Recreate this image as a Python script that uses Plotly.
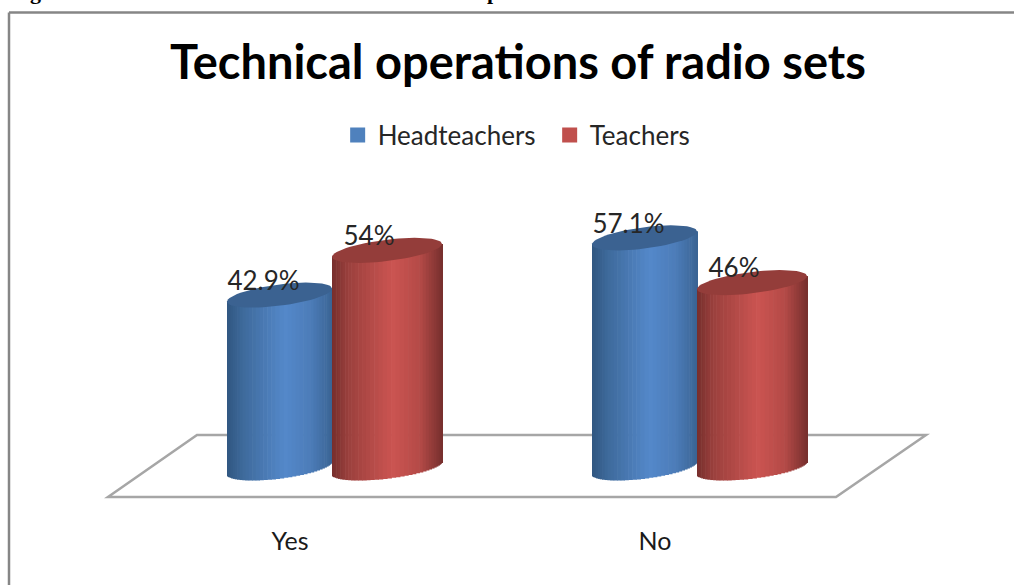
import math
import plotly.graph_objects as go

# ---- data ----
categories = ["Yes", "No"]
headteachers = [42.9, 57.1]
teachers = [54, 46]
headteacher_labels = ["42.9%", "57.1%"]
teacher_labels = ["54%", "46%"]
title_text = "Technical operations of radio sets"

W, H = 1014, 585
PLOT_BOTTOM = 515
X0_PX, UNIT_X = 332.0, 365.0      # px of category 0, px per category
Y0_PX, UNIT_Y = 468.0, 4.03       # px of value 0, px per percent
BAR_W = {"h": 105.0, "t": 110.0}
TILT = 6.5
MINOR = 10.7
N = 40

BLUE_STOPS = [(0.0, (48, 86, 128)), (0.15, (62, 106, 155)), (0.55, (84, 136, 202)),
              (0.8, (76, 124, 184)), (1.0, (58, 100, 148))]
RED_STOPS = [(0.0, (118, 46, 44)), (0.15, (155, 64, 61)), (0.55, (203, 84, 81)),
             (0.8, (180, 74, 71)), (1.0, (120, 48, 46))]


def shade(stops, u):
    for (a, ca), (b, cb) in zip(stops, stops[1:]):
        if u <= b:
            f = (u - a) / (b - a)
            c = [round(p + (q - p) * f) for p, q in zip(ca, cb)]
            return f"rgb({c[0]},{c[1]},{c[2]})"
    return "rgb(%d,%d,%d)" % stops[-1][1]


def add_cylinders(fig, values, stops, offset_px, width_px, top_color):
    for i in range(N):
        # strips evenly spaced round the cylinder, so narrow towards its edges
        t0 = -math.cos(math.pi * i / N)
        t1 = -math.cos(math.pi * (i + 1) / N)
        t = (t0 + t1) / 2
        u = (t + 1) / 2
        left = (t0 + 1) / 2 * width_px
        strip = (t1 - t0) / 2 * width_px
        tilt = TILT * t / UNIT_Y
        front = MINOR * math.sqrt(max(0, 1 - t * t)) / UNIT_Y
        base = [tilt - front for _ in values]
        heights = [v + front for v in values]
        fig.add_trace(go.Bar(
            x=list(range(len(values))), y=heights, base=base,
            width=(strip + 0.6) / UNIT_X,
            offset=(offset_px + left) / UNIT_X,
            marker=dict(color=shade(stops, u), line=dict(width=0)),
            showlegend=False, hoverinfo="skip"))
    # the elliptical lids
    for k, v in enumerate(values):
        xs, ys = [], []
        for d in range(0, 361, 6):
            a = math.radians(d)
            t, s = math.cos(a), math.sin(a)
            xs.append(k + (offset_px + (t + 1) / 2 * width_px) / UNIT_X)
            ys.append(v + (TILT * t + MINOR * s) / UNIT_Y)
        fig.add_trace(go.Scatter(
            x=xs, y=ys, mode="lines", fill="toself", fillcolor=top_color,
            line=dict(width=0, color=top_color), showlegend=False, hoverinfo="skip"))


fig = go.Figure()
add_cylinders(fig, headteachers, BLUE_STOPS, -BAR_W["h"], BAR_W["h"], "rgb(59,98,145)")
add_cylinders(fig, teachers, RED_STOPS, 0, BAR_W["t"], "rgb(148,61,58)")

# data labels
LABEL_FONT = dict(family="Lato, 'Noto Sans', sans-serif", size=26, color="#262626")
fig.add_trace(go.Scatter(
    x=[i + (-BAR_W["h"] / 2 - 16) / UNIT_X for i in range(2)],
    y=[v + 11.5 / UNIT_Y for v in headteachers],
    mode="text", text=headteacher_labels, textposition="middle center",
    textfont=LABEL_FONT, showlegend=False, hoverinfo="skip"))
fig.add_trace(go.Scatter(
    x=[i + (BAR_W["t"] / 2 - 18) / UNIT_X for i in range(2)],
    y=[v + 12 / UNIT_Y for v in teachers],
    mode="text", text=teacher_labels, textposition="middle center",
    textfont=LABEL_FONT, showlegend=False, hoverinfo="skip"))

# legend entries
for name, col in (("Headteachers", "#4f81bd"), ("Teachers", "#c0504d")):
    fig.add_trace(go.Scatter(
        x=[None], y=[None], mode="markers", name=name,
        marker=dict(symbol="square", size=15, color=col)))


def floor_path():
    pts = [(108, 497), (836, 497), (926, 435), (197, 435)]
    out = []
    for i, (a, b) in enumerate(pts):
        out.append(("M" if i == 0 else "L") + f" {(a - X0_PX) / UNIT_X:.4f} {(Y0_PX - b) / UNIT_Y:.4f}")
    return " ".join(out) + " Z"


shapes = [
    dict(type="path", path=floor_path(), xref="x", yref="y", layer="below",
         line=dict(color="#a6a6a6", width=2.5), fillcolor="white"),
]

fig.update_layout(
    width=W, height=H,
    margin=dict(l=0, r=0, t=0, b=H - PLOT_BOTTOM, autoexpand=False),
    paper_bgcolor="white", plot_bgcolor="white",
    barmode="overlay",
    shapes=shapes,
    xaxis=dict(range=[-X0_PX / UNIT_X, (W - X0_PX) / UNIT_X],
               tickmode="array",
               tickvals=[-42 / UNIT_X, 1 - 42 / UNIT_X],
               ticktext=categories,
               ticks="outside", ticklen=4, tickcolor="rgba(0,0,0,0)",
               tickfont=dict(family="Lato, 'Noto Sans', sans-serif", size=25, color="#1a1a1a"),
               showgrid=False, zeroline=False, showline=False),
    yaxis=dict(range=[(Y0_PX - PLOT_BOTTOM) / UNIT_Y, Y0_PX / UNIT_Y],
               visible=False, showgrid=False, zeroline=False),
    legend=dict(orientation="h", x=0.333, y=1 - 135 / PLOT_BOTTOM, xanchor="left", yanchor="middle",
                xref="paper", yref="paper", entrywidth=167, entrywidthmode="pixels",
                font=dict(family="Lato, 'Noto Sans', sans-serif", size=26, color="#262626"),
                itemsizing="trace", bgcolor="rgba(0,0,0,0)", traceorder="normal"),
    title=dict(text=f"<b>{title_text}</b>", x=518 / W, xanchor="center", y=1 - 63 / H, yanchor="middle",
               font=dict(family="Lato, 'Noto Sans', sans-serif", size=47, color="black")),
    annotations=[
        dict(text="<b>g</b>", x=35 / W, y=1 + 8 / PLOT_BOTTOM, xref="paper", yref="paper",
             showarrow=False, xanchor="center", yanchor="middle",
             font=dict(family="Liberation Serif", size=22, color="black")),
        dict(text="<b>p</b>", x=493 / W, y=1 + 8 / PLOT_BOTTOM, xref="paper", yref="paper",
             showarrow=False, xanchor="center", yanchor="middle",
             font=dict(family="Liberation Serif", size=22, color="black")),
    ],
)
# frame lines: the chart frame runs off the picture to the right and the bottom
fig.add_shape(type="line", xref="paper", yref="paper", x0=9 / W, x1=1, y0=1 - 12.5 / PLOT_BOTTOM, y1=1 - 12.5 / PLOT_BOTTOM,
              line=dict(color="#868686", width=2.5))
fig.add_shape(type="line", xref="paper", yref="paper", x0=9 / W, x1=9 / W, y0=1 - 12.5 / PLOT_BOTTOM, y1=1 - H / PLOT_BOTTOM,
              line=dict(color="#868686", width=2.5))

fig.write_html("out.html", config={"displayModeBar": False},
               post_script="document.body.style.margin='0';window.dispatchEvent(new Event('resize'));")
